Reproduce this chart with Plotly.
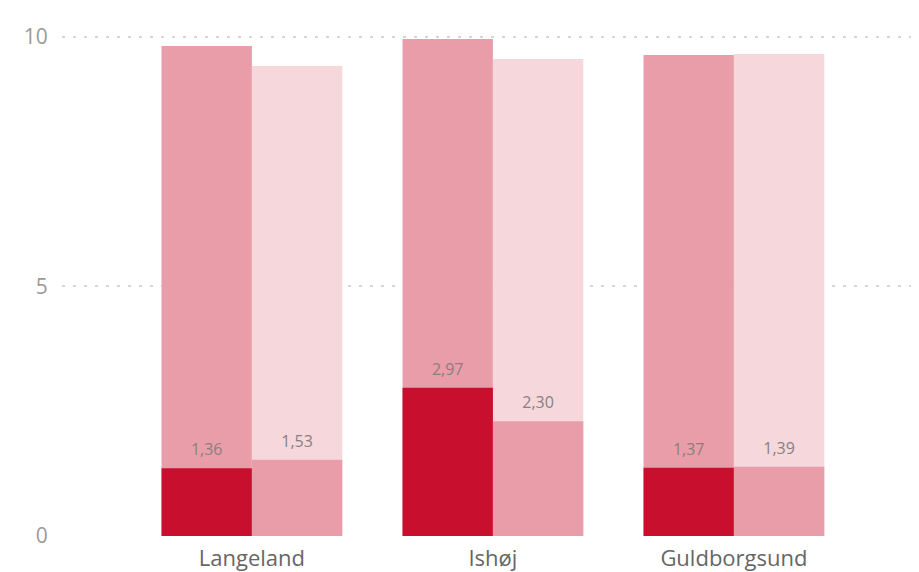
import plotly.graph_objects as go

categories = ["Langeland", "Ishøj", "Guldborgsund"]

# background (target) bars
target_a = [9.82, 9.96, 9.64]
target_b = [9.42, 9.56, 9.66]

# foreground (actual) bars
actual_a = [1.36, 2.97, 1.37]
actual_b = [1.53, 2.30, 1.39]

y_ticks = [0, 5, 10]

dark_red = "#C8102E"
pink = "#E89DA8"
light_pink = "#F6D8DC"
label_grey = "#888080"
font_family = "Open Sans, Noto Sans, sans-serif"

bar_w = 0.375
# label sits a little higher above the bar, like the original
label_tpl = "<span style='font-size:16px'>%{y:.2f}</span><br> "

fig = go.Figure()

fig.add_trace(go.Bar(
    x=categories, y=target_a, width=bar_w, offset=-bar_w,
    marker=dict(color=pink, line=dict(width=0)),
    hoverinfo="skip", showlegend=False
))
fig.add_trace(go.Bar(
    x=categories, y=target_b, width=bar_w, offset=0,
    marker=dict(color=light_pink, line=dict(width=0)),
    hoverinfo="skip", showlegend=False
))
fig.add_trace(go.Bar(
    x=categories, y=actual_a, width=bar_w, offset=-bar_w,
    marker=dict(color=dark_red, line=dict(width=0)),
    texttemplate=label_tpl, textposition="outside",
    textfont=dict(color=label_grey, size=6, family=font_family),
    cliponaxis=False, showlegend=False
))
fig.add_trace(go.Bar(
    x=categories, y=actual_b, width=bar_w, offset=0,
    marker=dict(color=pink, line=dict(width=0)),
    texttemplate=label_tpl, textposition="outside",
    textfont=dict(color=label_grey, size=6, family=font_family),
    cliponaxis=False, showlegend=False
))

fig.update_layout(
    barmode="overlay",
    width=911,
    height=564,
    margin=dict(l=54, r=0, t=19, b=36),
    paper_bgcolor="white",
    plot_bgcolor="white",
    separators=",.",
    font=dict(family=font_family, color="#777777"),
    uniformtext=dict(mode=False),
    xaxis=dict(
        range=[-0.788, 2.768],
        showgrid=False,
        showline=False,
        zeroline=False,
        tickfont=dict(size=22, color="#666666"),
        ticks="outside", ticklen=3, tickcolor="rgba(0,0,0,0)",
    ),
    yaxis=dict(
        range=[0, 10.2],
        tickvals=y_ticks,
        showgrid=True,
        gridcolor="#d6d6d6",
        griddash="3px,8px",
        gridwidth=2,
        zeroline=False,
        showline=False,
        tickfont=dict(size=21, color="#9a9a9a"),
        ticks="outside", ticklen=9, tickcolor="rgba(0,0,0,0)",
    ),
)

fig.write_html("out.html")
